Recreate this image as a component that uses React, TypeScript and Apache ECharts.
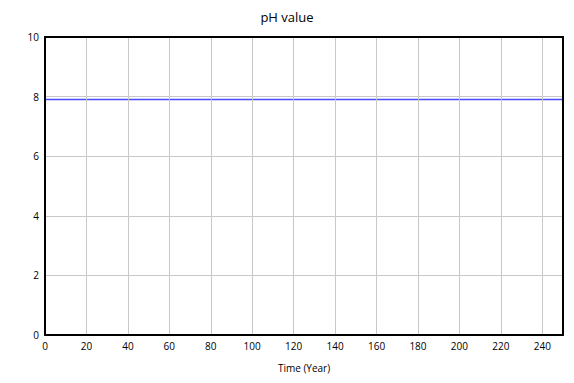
import React, { useEffect, useRef } from "react";
import * as echarts from "echarts";

const years = [0, 25, 50, 75, 100, 125, 150, 175, 200, 225, 250];
const phValues = [7.9, 7.9, 7.9, 7.9, 7.9, 7.9, 7.9, 7.9, 7.9, 7.9, 7.9];

const frameLine = { show: true, onZero: false, lineStyle: { color: "#000", width: 2 } };

export default function App() {
  const ref = useRef<HTMLDivElement>(null);
  useEffect(() => {
    if (!ref.current) return;
    const chart = echarts.init(ref.current, undefined, { renderer: "svg" });
    chart.setOption({
      animation: false,
      title: {
        text: "pH value",
        left: "center",
        top: 5,
        textStyle: { fontFamily: "Open Sans", fontSize: 13, fontWeight: "normal", color: "#000" },
      },
      grid: {
        left: 45,
        right: 11,
        top: 37,
        bottom: 48,
      },
      xAxis: [
        {
          type: "value",
          min: 0,
          max: 250,
          interval: 20,
          name: "Time (Year)",
          nameLocation: "middle",
          nameGap: 28,
          nameTextStyle: { fontFamily: "Open Sans", fontSize: 10, color: "#000" },
          axisLine: frameLine,
          axisTick: { show: false },
          axisLabel: {
            fontFamily: "Open Sans",
            fontSize: 10,
            color: "#000",
            margin: 6,
            showMaxLabel: false,
          },
          splitLine: { show: true, lineStyle: { color: "#c8c8c8", width: 1 } },
          z: 3,
        },
        {
          type: "value",
          position: "top",
          min: 0,
          max: 250,
          interval: 20,
          axisLine: frameLine,
          axisTick: { show: false },
          axisLabel: { show: false },
          splitLine: { show: false },
          z: 3,
        },
      ],
      yAxis: [
        {
          type: "value",
          min: 0,
          max: 10,
          interval: 2,
          axisLine: frameLine,
          axisTick: { show: false },
          axisLabel: { fontFamily: "Open Sans", fontSize: 10, color: "#000", margin: 6 },
          splitLine: { show: true, lineStyle: { color: "#c8c8c8", width: 1 } },
          z: 3,
        },
        {
          type: "value",
          position: "right",
          min: 0,
          max: 10,
          interval: 2,
          axisLine: frameLine,
          axisTick: { show: false },
          axisLabel: { show: false },
          splitLine: { show: false },
          z: 3,
        },
      ],
      series: [
        {
          type: "line",
          xAxisIndex: 0,
          yAxisIndex: 0,
          data: years.map((y, i) => [y, phValues[i]]),
          showSymbol: false,
          lineStyle: { color: "#4a4aff", width: 1.5 },
          z: 2,
        },
      ],
    });
    return () => chart.dispose();
  }, []);
  return <div ref={ref} style={{ width: 574, height: 383, position: "absolute", left: 0, top: 0 }} />;
}
